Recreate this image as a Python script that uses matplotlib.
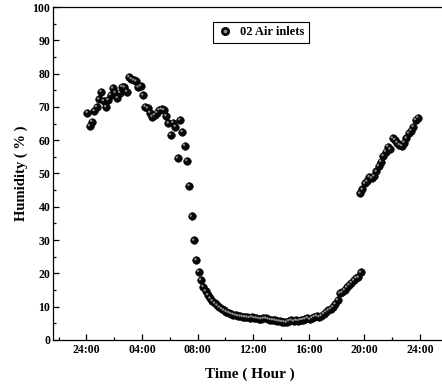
import numpy as np
import matplotlib.pyplot as plt
from matplotlib.lines import Line2D
from matplotlib.transforms import offset_copy

plt.rcParams['font.family'] = ['Liberation Serif', 'DejaVu Serif']
plt.rcParams['font.weight'] = 'bold'

# humidity readings, one every 10 min from 00:04 until the reset near 19:45
hum_day = [68.3, 64.3, 65.6, 68.8, 70.0, 72.3, 74.6, 71.8, 70.0, 72.1,
           73.6, 75.6, 74.3, 72.7, 74.3, 76.1, 75.9, 74.6, 79.0, 78.4,
           78.0, 77.7, 75.9, 76.3, 73.5, 70.1, 69.6, 68.3, 67.1, 67.6,
           68.3, 69.1, 69.3, 69.1, 67.3, 65.1, 61.6, 65.3, 64.1, 54.6,
           66.1, 62.5, 58.4, 53.8, 46.3, 37.1, 29.9, 24.0,
           20.5, 18.0, 16.0, 14.7, 13.5, 12.5, 11.7, 11.0, 10.4, 9.8,
           9.3, 8.9, 8.5, 8.2, 7.9, 7.6, 7.4, 7.2, 7.1, 7.0,
           6.9, 6.8, 6.7, 6.9, 6.6, 6.6, 6.4, 6.3, 6.5, 6.5,
           6.3, 6.1, 6.0, 5.9, 5.7, 5.6, 5.5, 5.4, 5.3, 5.7,
           5.9, 5.6, 5.9, 5.8, 6.0, 6.1, 6.3, 6.6, 6.2, 6.6,
           7.0, 7.2, 6.9, 7.3, 7.9, 8.4, 8.9, 9.3, 9.9, 10.8,
           12.0, 14.0, 14.3, 15.0, 15.8, 16.5, 17.2, 17.9, 18.6, 18.8,
           20.3]
# evening readings after the jump
hum_eve = [44.0, 45.2, 47.0, 47.6, 49.0, 48.6, 49.2, 50.6, 52.3, 53.6,
           55.3, 56.6, 58.1, 57.3, 60.6, 60.1, 59.3, 58.6, 58.3, 59.3,
           60.6, 62.1, 62.9, 64.1, 66.1, 66.8]

t_day = 0.07 + np.arange(len(hum_day)) / 6
t_eve = 19.69 + np.arange(len(hum_eve)) / 6

x_ticks = [0, 4, 8, 12, 16, 20, 24]
x_labels = ['24:00', '04:00', '08:00', '12:00', '16:00', '20:00', '24:00']

t = np.concatenate([t_day, t_eve])
h = np.concatenate([hum_day, hum_eve])

fig = plt.figure(figsize=(4.42, 3.89), dpi=100)
ax = fig.add_axes([0.12, 0.126, 0.89, 0.856])

ax.scatter(t, h, s=30, color='#080808', edgecolor='#000000', linewidth=0.4, zorder=3)
hl = offset_copy(ax.transData, fig=fig, x=-0.8, y=0.8, units='dots')
ax.scatter(t, h, s=3, color='#8c8c8c', edgecolor='none', transform=hl, zorder=4)

ax.set_xlim(-2.4, 25.9)
ax.set_ylim(0, 100)
ax.set_xticks(x_ticks)
ax.set_xticklabels(x_labels)
ax.set_xticks(np.arange(-2, 26, 2), minor=True)
ax.set_yticks(np.arange(0, 101, 10))
ax.set_yticks(np.arange(0, 101, 5), minor=True)
ax.tick_params(which='both', direction='in', labelsize=8.5, width=0.9)
ax.tick_params(which='major', length=4.5, pad=3)
ax.tick_params(which='minor', length=2.5)
ax.tick_params(axis='y', pad=2)
for lab in ax.get_xticklabels() + ax.get_yticklabels():
    lab.set_fontweight('bold')
for sp in ax.spines.values():
    sp.set_linewidth(0.9)

ax.set_xlabel('Time ( Hour )', fontsize=11, fontweight='bold', labelpad=8)
ax.set_ylabel('Humidity ( % )', fontsize=10.5, fontweight='bold', labelpad=3)

dot = Line2D([], [], ls='none', marker='o', ms=5.5, color='#080808')
spot = Line2D([], [], ls='none', marker='o', ms=1.6, color='#8c8c8c')
ax.legend([(dot, spot)], ['02 Air inlets'], loc='upper left',
          bbox_to_anchor=(0.407, 0.955), borderaxespad=0, fancybox=False,
          edgecolor='black', framealpha=1, handlelength=1.2, handletextpad=0.6,
          borderpad=0.35, prop={'size': 9, 'weight': 'bold'})
ax.get_legend().get_frame().set_linewidth(0.8)

fig.savefig('out.png', dpi=100)
